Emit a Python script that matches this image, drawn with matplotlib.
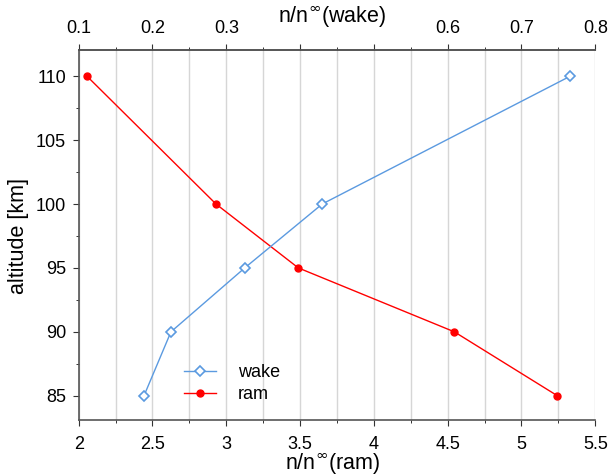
import matplotlib.pyplot as plt
from matplotlib.ticker import MultipleLocator

plt.rcParams['font.family'] = ['Liberation Sans', 'DejaVu Sans']
plt.rcParams['mathtext.fontset'] = 'dejavusans'

altitude = [110, 100, 95, 90, 85]
ram = [2.056, 2.93, 3.488, 4.545, 5.243]
wake = [0.766, 0.43, 0.325, 0.225, 0.1885]

ram_ticks = [2, 2.5, 3, 3.5, 4, 4.5, 5, 5.5]
ram_labels = ['2', '2.5', '3', '3.5', '4', '4.5', '5', '5.5']
wake_ticks = [0.1, 0.2, 0.3, 0.4, 0.5, 0.6, 0.7, 0.8]
wake_labels = ['0.1', '0.2', '0.3', '', '', '0.6', '0.7', '0.8']

spine_col = '#555555'
grid_col = '#d6d6d6'
blue = '#5b9ae0'

fig = plt.figure(figsize=(6.11, 4.76), dpi=100)
ax = fig.add_axes([0.1288, 0.1176, 0.8455, 0.7774])
ax2 = ax.twiny()

l_ram, = ax.plot(ram, altitude, color='red', lw=1, marker='o', ms=5, label='ram')
l_wake, = ax2.plot(wake, altitude, color=blue, lw=1, marker='D', ms=5,
                   mfc='white', mec=blue, mew=1.2, label='wake')

ax.set_xlim(2, 5.5)
ax2.set_xlim(0.1, 0.8)
ax.set_ylim(83.1, 112.05)

ax.set_xticks(ram_ticks)
ax.set_xticklabels(ram_labels)
ax.xaxis.set_minor_locator(MultipleLocator(0.25))
ax2.set_xticks(wake_ticks)
ax2.set_xticklabels(wake_labels)
ax2.xaxis.set_minor_locator(MultipleLocator(0.05))
ax.yaxis.set_major_locator(MultipleLocator(5))
ax.yaxis.set_minor_locator(MultipleLocator(2.5))

ax.grid(True, which='both', axis='x', color=grid_col, lw=1)
ax.set_axisbelow(True)

for a in (ax, ax2):
    a.spines['right'].set_visible(False)
    for s in ('left', 'bottom', 'top'):
        a.spines[s].set_color(spine_col)
        a.spines[s].set_linewidth(1.2)
    a.tick_params(which='major', direction='out', length=4.5, width=0.8, color='#333333',
                  labelsize=13)
    a.tick_params(which='minor', direction='out', length=2.5, width=0.7, color='#333333')
ax2.spines['left'].set_visible(False)
ax2.spines['bottom'].set_visible(False)
ax.tick_params(axis='x', which='major', pad=7)
ax.tick_params(axis='y', which='major', pad=4.5)
ax2.tick_params(axis='x', which='major', pad=4.5)

ax.set_xlabel(r'n/n$^{\infty}$(ram)', fontsize=15.5)
ax.xaxis.set_label_coords(0.492, -0.121)
ax.xaxis.label.set_va('center')
ax2.set_xlabel(r'n/n$^{\infty}$(wake)', fontsize=15.5)
ax2.xaxis.set_label_coords(0.49, 1.087)
ax2.xaxis.label.set_va('center')
ax.set_ylabel('altitude [km]', fontsize=15.5)
ax.yaxis.set_label_coords(-0.1156, 0.496)
ax.yaxis.label.set_va('center')

ax.legend([l_wake, l_ram], ['wake', 'ram'], loc='center left',
          bbox_to_anchor=(0.189, 0.0986), borderaxespad=0, frameon=False,
          fontsize=13, handlelength=1.8, handletextpad=1.2, labelspacing=0.3)

fig.savefig('out.png', dpi=100)
